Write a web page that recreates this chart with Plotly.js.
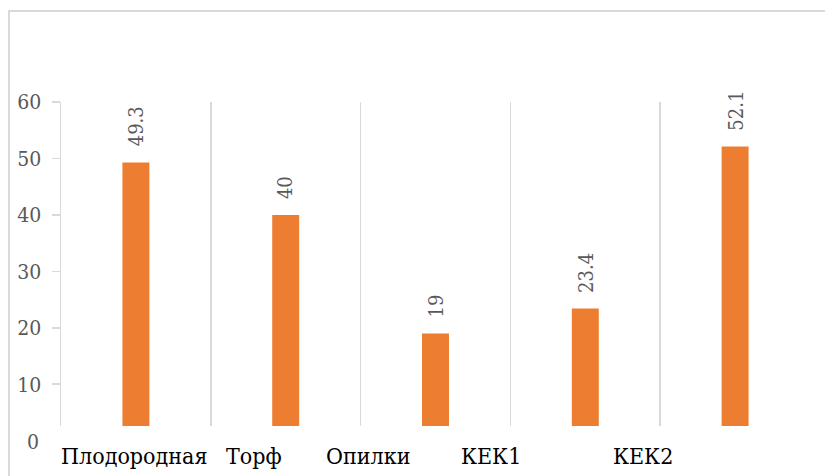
<!DOCTYPE html>
<html>
<head>
<meta charset="utf-8">
<script src="https://cdn.plot.ly/plotly-3.0.1.min.js"></script>
<style>
  html, body { margin: 0; padding: 0; background: #fff; }
  #wrap { position: relative; width: 825px; height: 476px; overflow: hidden; }
  #chart { position: absolute; left: 0; top: 0; width: 825px; height: 476px; }
  #frame { position: absolute; left: 8px; top: 10px; width: 900px; height: 600px;
           border-left: 2px solid #d9d9d9; border-top: 2px solid #d9d9d9; pointer-events: none; }
</style>
</head>
<body>
<div id="wrap">
  <div id="chart"></div>
  <div id="frame"></div>
</div>
<script>
// Data
const categories = ["Плодородная", "Торф", "Опилки", "КЕК1", "КЕК2"];
const values = [49.3, 40, 19, 23.4, 52.1];
const yTickVals = [10, 20, 30, 40, 50, 60];
const yZeroLabel = "0";

// Styles
const barColor = "#ED7D31";
const gridColor = "#d9d9d9";
const textGray = "#595959";
const serif = "DejaVu Serif Condensed, DejaVu Serif";
const labelShift = [-2, -32, -68, -94, -92];

const annotations = [];
categories.forEach((c, i) => {
  annotations.push({
    x: c, y: values[i], xref: 'x', yref: 'y',
    text: String(values[i]), showarrow: false, textangle: -90,
    xanchor: 'center', yanchor: 'bottom', yshift: 14,
    font: { family: serif, size: 20, color: textGray }
  });
  annotations.push({
    x: c, y: 0, xref: 'x', yref: 'paper',
    text: c, showarrow: false, xanchor: 'center', yanchor: 'middle',
    xshift: labelShift[i], yshift: -30,
    font: { family: serif, size: 23, color: '#000000' }
  });
});
annotations.push({
  x: 0, y: 0, xref: 'paper', yref: 'paper', text: yZeroLabel, showarrow: false,
  xanchor: 'right', yanchor: 'middle', xshift: -20, yshift: -16,
  font: { family: serif, size: 21, color: textGray }
});

const trace = {
  type: 'bar', x: categories, y: values, width: 0.18,
  marker: { color: barColor }, hoverinfo: 'skip'
};

const layout = {
  width: 825, height: 476,
  margin: { l: 61, r: 15, t: 102, b: 50 },
  paper_bgcolor: '#ffffff', plot_bgcolor: '#ffffff', showlegend: false,
  xaxis: {
    type: 'category', tickson: 'boundaries',
    showgrid: true, gridcolor: gridColor, gridwidth: 1.5,
    showticklabels: false, ticks: '', showline: false, zeroline: false,
    range: [-0.5, categories.length - 0.5]
  },
  yaxis: {
    range: [2.6, 60], tickvals: yTickVals,
    showgrid: false, zeroline: false,
    showline: true, linecolor: gridColor, linewidth: 1.5,
    ticks: 'outside', ticklen: 8, tickcolor: gridColor, tickwidth: 1.5,
    ticklabelstandoff: 6,
    tickfont: { family: serif, size: 21, color: textGray }
  },
  annotations: annotations
};

Plotly.newPlot('chart', [trace], layout, { displayModeBar: false, staticPlot: true });
</script>
</body>
</html>
